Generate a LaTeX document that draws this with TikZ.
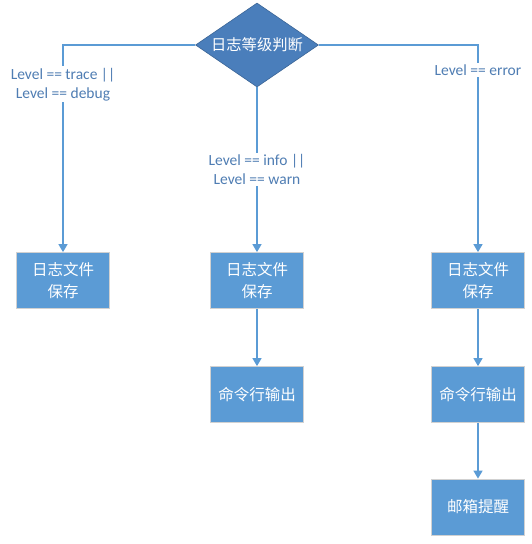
\documentclass[tikz,border=0pt]{standalone}
\usepackage{fontspec}
\setmainfont{Carlito}
\newfontfamily\cjk{Noto Sans CJK SC}
\usetikzlibrary{shapes.geometric,arrows.meta}
\definecolor{linkblue}{HTML}{5B9BD5}
\definecolor{boxblue}{HTML}{5B9BD5}
\definecolor{diablue}{HTML}{4A7EBB}
\definecolor{textblue}{HTML}{4F7DB3}

\begin{document}
\begin{tikzpicture}[x=1pt,y=-1pt,
  judgebox/.style={diamond,aspect=1.5,fill=diablue,draw=diablue!80!black,line width=0.6pt,
    minimum width=123pt,minimum height=84pt,inner sep=0pt,text=white,font=\cjk\fontsize{15.3}{18}\selectfont},
  actbox/.style={rectangle,fill=boxblue,draw=black!18,line width=0.8pt,minimum width=93pt,minimum height=56pt,
    align=center,text=white,font=\cjk\fontsize{15.5}{22}\selectfont},
  arr/.style={draw=linkblue,line width=1.6pt,-{Triangle[width=9pt,length=8pt]}},
  cond/.style={fill=white,text=textblue,align=center,inner sep=1.5pt,font=\fontsize{15.5}{19}\selectfont}]
  \useasboundingbox (0,0) rectangle (531,544);

  \node[judgebox] (judge) at (257,45) {日志等级判断};

  \node[actbox] (save1) at (63,280.5) {日志文件\\保存};

  \node[actbox] (save2) at (257,280.5) {日志文件\\保存};
  \node[actbox] (cmd2) at (257,394.5) {命令行输出};

  \node[actbox] (save3) at (478,280.5) {日志文件\\保存};
  \node[actbox] (cmd3) at (478,394.5) {命令行输出};
  \node[actbox] (mail3) at (478,507) {邮箱提醒};

  \draw[arr] (judge.west) -| node[cond,pos=0.595]{Level == trace ||\\Level == debug} (save1.north);
  \draw[arr] (judge.south) -- node[cond,pos=0.5]{Level == info ||\\Level == warn} (save2.north);
  \draw[arr] (judge.east) -| node[cond,pos=0.56]{Level == error} (save3.north);

  \draw[arr] (save2) -- (cmd2);
  \draw[arr] (save3) -- (cmd3);
  \draw[arr] (cmd3) -- (mail3);
\end{tikzpicture}
\end{document}
